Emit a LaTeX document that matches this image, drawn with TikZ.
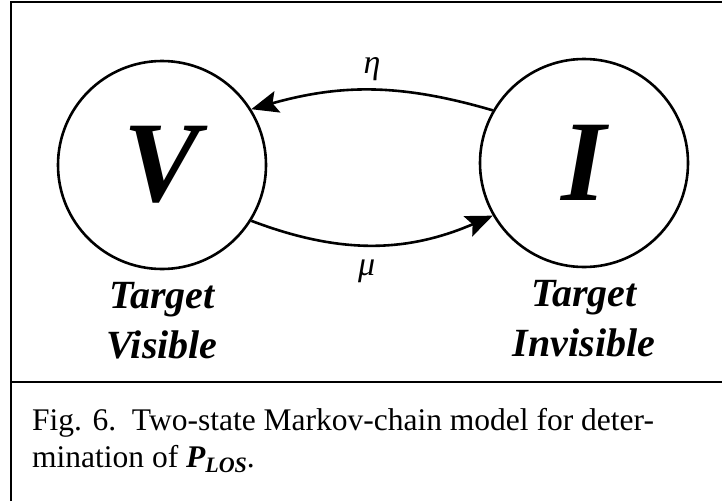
\documentclass[tikz,border=0pt]{standalone}
\usepackage{fontspec}
\setmainfont{Liberation Serif}
\usetikzlibrary{arrows.meta, positioning}

\begin{document}
\begin{tikzpicture}[x=1pt, y=-1pt,
        state/.style={draw, circle, line width=2.6pt, minimum size=208pt, inner sep=0pt,
            font=\fontsize{115}{115}\selectfont\bfseries\itshape},
        tag/.style={font=\fontsize{40}{50}\selectfont\bfseries\itshape, align=center, inner sep=0pt},
        rate/.style={font=\fontsize{34}{34}\selectfont\itshape, inner sep=0pt},
        trans/.style={line width=2.6pt, -{Stealth[length=27pt, width=22pt, inset=5pt]}},
        frame/.style={line width=2pt}
    ]
    \useasboundingbox (0,0) rectangle (722,501);

    % Frame
    \draw[frame] (11,501) -- (11,2) -- (722,2);
    \draw[frame] (11,382) -- (722,382);

    % States
    \node[state] (V) at (162,165) {V};
    \node[state] (I) at (584,163) {I};

    % Transitions
    \draw[trans] (I.150) to[bend right=16] node[rate, above=8pt] (eta) {η} (V.32);
    \draw[trans] (V.-32) to[bend right=22] node[rate, below=14pt, xshift=-6pt] (mu) {μ} (I.210);

    % Labels
    \node[tag, below=12pt of V] (Vtag) {Target\\Visible};
    \node[tag, below=12pt of I] (Itag) {Target\\Invisible};

    % Caption
    \node[anchor=north west, align=left, inner sep=0pt,
        font=\fontsize{31.5}{37}\selectfont] (cap) at (32,408)
        {Fig. 6.\ \ Two-state Markov-chain model for deter-\\
         mination of {\bfseries\itshape P\raisebox{-5pt}{\fontsize{22}{22}\selectfont LOS}}.};

\end{tikzpicture}
\end{document}
